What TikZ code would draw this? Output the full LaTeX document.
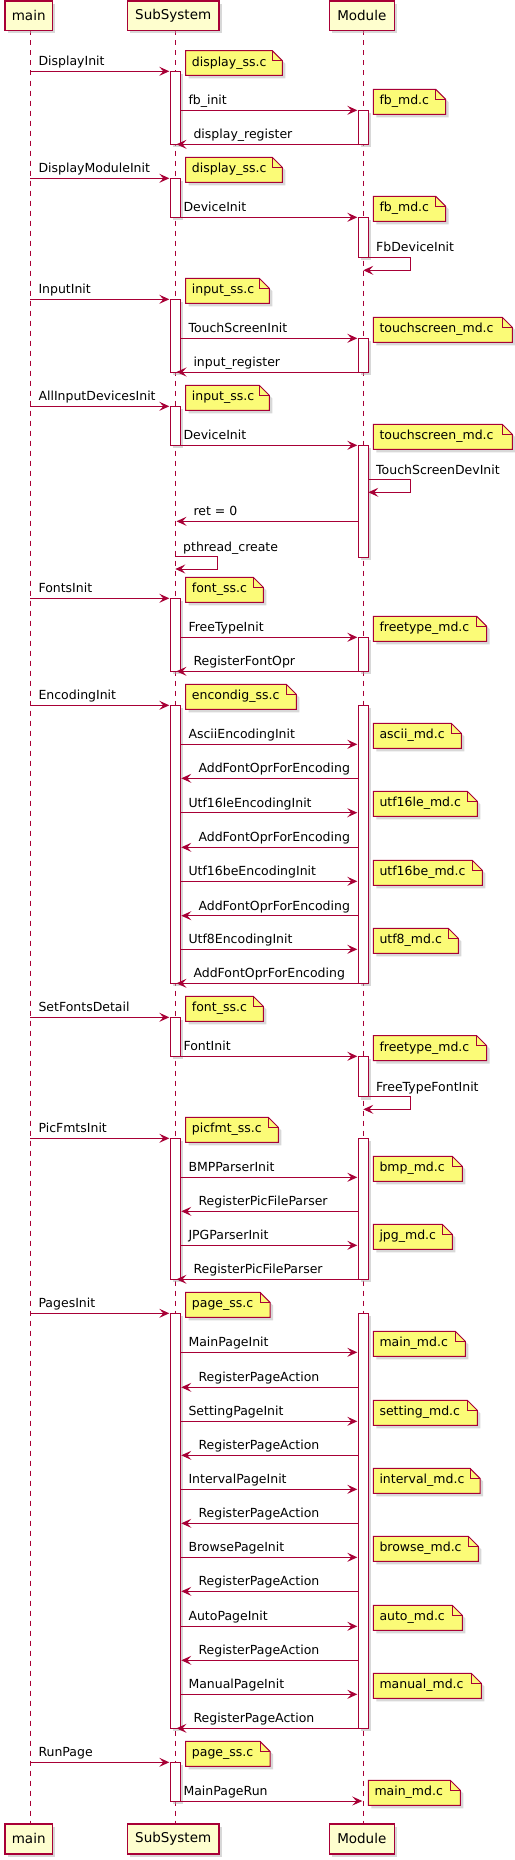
\documentclass[tikz,border=0pt]{standalone}
\usepackage{fontspec}
\setmainfont{DejaVu Sans}
\usetikzlibrary{arrows.meta,shadows,fit}
\definecolor{pu}{HTML}{A80036}
\definecolor{pfill}{HTML}{FEFECE}
\definecolor{nfill}{HTML}{FBFB77}
\tikzset{
 shd/.style={drop shadow={shadow xshift=3pt,shadow yshift=-3pt,fill=black!30,opacity=0.5}},
 part/.style={draw=pu,line width=1.5pt,fill=pfill,shd,inner sep=0,font=\fontsize{13.5}{16}\selectfont},
 life/.style={draw=pu,line width=1pt,dash pattern=on 5pt off 5pt},
 act/.style={draw=pu,line width=1pt,fill=white,shd,inner sep=0,fit=#1},
 msg/.style={draw=pu,line width=1pt,-{Stealth[length=10pt,width=9pt,inset=4pt]}},
 lbl/.style={anchor=base west,inner sep=0,font=\fontsize{12.5}{15}\selectfont},
 notebox/.style={draw=pu,line width=1pt,fill=nfill,shd},
 fold/.style={draw=pu,line width=1pt},
}
\newcommand\nt[6]{%
 \draw[notebox] (#2,#3) -- ({#4-10},#3) -- (#4,{#3+10}) -- (#4,#5) -- (#2,#5) -- cycle;
 \draw[fold] ({#4-10},#3) -- ({#4-10},{#3+10}) -- (#4,{#3+10});
 \node[lbl] (#1) at ({#2+6},{#3+15.5}) {#6};}
\newcommand\msgto[6]{%
 \coordinate (#1s) at (#2,#4); \coordinate (#1e) at (#3,#4);
 \draw[msg] (#1s) -- (#1e);
 \node[lbl] (#1l) at (#5,{#4-5.5}) {#6};}
\newcommand\selfmsg[7]{%
 \coordinate (#1s) at (#2,#3); \coordinate (#1e) at (#6,#5);
 \draw[msg] (#1s) -- (#4,#3) -- (#4,#5) -- (#1e);
 \node[lbl] (#1l) at ({#2+7.7},{#3-5.5}) {#7};}
\newcommand\actS[3]{%
 \coordinate (#1a) at (170.3,#2); \coordinate (#1b) at (180.3,#3);
 \node[act={(#1a)(#1b)}] (#1) {};}
\newcommand\actM[3]{%
 \coordinate (#1a) at (358.3,#2); \coordinate (#1b) at (368.3,#3);
 \node[act={(#1a)(#1b)}] (#1) {};}
\begin{document}
\begin{tikzpicture}[x=1pt,y=-1pt]
\useasboundingbox (0,0) rectangle (514,1860);
\fill[white] (0,0) rectangle (514,1860);
% lifelines
\coordinate (mainTop) at (30.3,30.5); \coordinate (mainBot) at (30.3,1823);
\coordinate (subTop) at (175.3,30.5); \coordinate (subBot) at (175.3,1823);
\coordinate (modTop) at (363.3,30.5); \coordinate (modBot) at (363.3,1823);
\draw[life] (mainTop) -- (mainBot);
\draw[life] (subTop) -- (subBot);
\draw[life] (modTop) -- (modBot);
% participants
\node[part,minimum width=47.3pt,minimum height=29.5pt] (mainT) at (28.7,15.75) {main};
\node[part,minimum width=91.7pt,minimum height=29.5pt] (subT) at (173.2,15.75) {SubSystem};
\node[part,minimum width=65pt,minimum height=29.5pt] (modT) at (361.8,15.75) {Module};
\node[part,minimum width=47.3pt,minimum height=30pt] (mainB) at (28.7,1838.8) {main};
\node[part,minimum width=91.7pt,minimum height=30pt] (subB) at (173.2,1838.8) {SubSystem};
\node[part,minimum width=65pt,minimum height=30pt] (modB) at (361.8,1838.8) {Module};
% activations
\actS{S1}{71.3}{144.3}
\actS{S2}{178.3}{217.3}
\actS{S3}{299.3}{372}
\actS{S4}{406.3}{445.3}
\actS{S5}{598.3}{671.3}
\actS{S6}{705.3}{983.3}
\actS{S7}{1017.3}{1056.3}
\actS{S8}{1138.3}{1279.3}
\actS{S9}{1313.3}{1728.3}
\actS{S10}{1762.3}{1801}
\actM{M1}{110.3}{144.3}
\actM{M2}{217.3}{257.3}
\actM{M3}{338.3}{372}
\actM{M4}{445.3}{557.3}
\actM{M5}{637.3}{671.3}
\actM{M6}{705.3}{983.3}
\actM{M7}{1056.3}{1096.7}
\actM{M8}{1138.3}{1279.3}
\actM{M9}{1313.3}{1728.3}
% messages
\msgto{m1}{30.3}{169.3}{71.3}{38.3}{DisplayInit}
\msgto{m2}{180.3}{357.3}{110.3}{188.3}{fb\_init}
\msgto{m3}{358.3}{176.5}{144.3}{193.3}{display\_register}
\msgto{m4}{30.3}{169.3}{178.3}{38.3}{DisplayModuleInit}
\msgto{m5}{175.3}{357.3}{217.3}{183.3}{DeviceInit}
\selfmsg{m6}{368.3}{257.3}{410.3}{270.3}{363.3}{FbDeviceInit}
\msgto{m7}{30.3}{169.3}{299.3}{38.3}{InputInit}
\msgto{m8}{180.3}{357.3}{338.3}{188.3}{TouchScreenInit}
\msgto{m9}{358.3}{176.5}{372}{193.3}{input\_register}
\msgto{m10}{30.3}{169.3}{406.3}{38.3}{AllInputDevicesInit}
\msgto{m11}{175.3}{357.3}{445.3}{183.3}{DeviceInit}
\selfmsg{m12}{368.3}{479.7}{410.3}{492.3}{368.3}{TouchScreenDevInit}
\msgto{m13}{358.3}{176.5}{521.3}{193.3}{ret = 0}
\selfmsg{m14}{175.3}{556.7}{217.3}{569}{175.3}{pthread\_create}
\msgto{m15}{30.3}{169.3}{598.3}{38.3}{FontsInit}
\msgto{m16}{180.3}{357.3}{637.3}{188.3}{FreeTypeInit}
\msgto{m17}{358.3}{176.5}{671.3}{193.3}{RegisterFontOpr}
\msgto{m18}{30.3}{169.3}{705.3}{38.3}{EncodingInit}
\msgto{m19}{180.3}{357.3}{744.3}{188.3}{AsciiEncodingInit}
\msgto{m20}{358.3}{181.3}{778.3}{198.3}{AddFontOprForEncoding}
\msgto{m21}{180.3}{357.3}{812.7}{188.3}{Utf16leEncodingInit}
\msgto{m22}{358.3}{181.3}{847.3}{198.3}{AddFontOprForEncoding}
\msgto{m23}{180.3}{357.3}{881.3}{188.3}{Utf16beEncodingInit}
\msgto{m24}{358.3}{181.3}{915.7}{198.3}{AddFontOprForEncoding}
\msgto{m25}{180.3}{357.3}{949.3}{188.3}{Utf8EncodingInit}
\msgto{m26}{358.3}{176.5}{983.3}{193.3}{AddFontOprForEncoding}
\msgto{m27}{30.3}{169.3}{1017.3}{38.3}{SetFontsDetail}
\msgto{m28}{175.3}{357.3}{1056.3}{183.3}{FontInit}
\selfmsg{m29}{368.3}{1096.7}{410.3}{1109.3}{363.3}{FreeTypeFontInit}
\msgto{m30}{30.3}{169.3}{1138.3}{38.3}{PicFmtsInit}
\msgto{m31}{180.3}{357.3}{1177.3}{188.3}{BMPParserInit}
\msgto{m32}{358.3}{181.3}{1211.3}{198.3}{RegisterPicFileParser}
\msgto{m33}{180.3}{357.3}{1245.3}{188.3}{JPGParserInit}
\msgto{m34}{358.3}{176.5}{1279.3}{193.3}{RegisterPicFileParser}
\msgto{m35}{30.3}{169.3}{1313.3}{38.3}{PagesInit}
\msgto{m36}{180.3}{357.3}{1352.3}{188.3}{MainPageInit}
\msgto{m37}{358.3}{181.3}{1387.3}{198.3}{RegisterPageAction}
\msgto{m38}{180.3}{357.3}{1421.3}{188.3}{SettingPageInit}
\msgto{m39}{358.3}{181.3}{1455.3}{198.3}{RegisterPageAction}
\msgto{m40}{180.3}{357.3}{1489.3}{188.3}{IntervalPageInit}
\msgto{m41}{358.3}{181.3}{1523.3}{198.3}{RegisterPageAction}
\msgto{m42}{180.3}{357.3}{1557.3}{188.3}{BrowsePageInit}
\msgto{m43}{358.3}{181.3}{1591.3}{198.3}{RegisterPageAction}
\msgto{m44}{180.3}{357.3}{1626.3}{188.3}{AutoPageInit}
\msgto{m45}{358.3}{181.3}{1660.3}{198.3}{RegisterPageAction}
\msgto{m46}{180.3}{357.3}{1694.3}{188.3}{ManualPageInit}
\msgto{m47}{358.3}{176.5}{1728.3}{193.3}{RegisterPageAction}
\msgto{m48}{30.3}{169.3}{1762.3}{38.3}{RunPage}
\msgto{m49}{175.3}{362.3}{1801}{183.3}{MainPageRun}
% notes
\nt{n1}{185.7}{50.7}{282.3}{75.3}{display\_ss.c}
\nt{n2}{373.3}{89.3}{445.7}{114.3}{fb\_md.c}
\nt{n3}{185.7}{157.3}{282.3}{182.3}{display\_ss.c}
\nt{n4}{373.3}{196.3}{445.7}{221.3}{fb\_md.c}
\nt{n5}{185.7}{278.3}{269.3}{303.3}{input\_ss.c}
\nt{n6}{373.3}{317.3}{512.3}{342.3}{touchscreen\_md.c}
\nt{n7}{185.7}{385.3}{269.3}{410.3}{input\_ss.c}
\nt{n8}{373.3}{424.3}{512.3}{449.3}{touchscreen\_md.c}
\nt{n9}{185.7}{577.3}{263.3}{602.3}{font\_ss.c}
\nt{n10}{373.3}{616.3}{486.7}{641.3}{freetype\_md.c}
\nt{n11}{185.7}{684.3}{296.3}{709.3}{encondig\_ss.c}
\nt{n12}{373.3}{723.3}{461.3}{748.3}{ascii\_md.c}
\nt{n13}{373.3}{791.3}{477.3}{816.3}{utf16le\_md.c}
\nt{n14}{373.3}{860.3}{482.3}{885.3}{utf16be\_md.c}
\nt{n15}{373.3}{928.3}{458.3}{953.3}{utf8\_md.c}
\nt{n16}{185.7}{996.3}{263.3}{1021.3}{font\_ss.c}
\nt{n17}{373.3}{1035.7}{486.7}{1060.7}{freetype\_md.c}
\nt{n18}{185.7}{1117.3}{278.3}{1142.3}{picfmt\_ss.c}
\nt{n19}{373.3}{1156.3}{462.3}{1181.3}{bmp\_md.c}
\nt{n20}{373.3}{1224.3}{452.3}{1249.3}{jpg\_md.c}
\nt{n21}{185.7}{1292.3}{270}{1317.3}{page\_ss.c}
\nt{n22}{373.3}{1331.3}{465.3}{1356.3}{main\_md.c}
\nt{n23}{373.3}{1400.3}{477.3}{1425.3}{setting\_md.c}
\nt{n24}{373.3}{1468.3}{480}{1493.3}{interval\_md.c}
\nt{n25}{373.3}{1536.3}{478.3}{1561.3}{browse\_md.c}
\nt{n26}{373.3}{1605.3}{462.3}{1630.3}{auto\_md.c}
\nt{n27}{373.3}{1673.3}{481.3}{1698.3}{manual\_md.c}
\nt{n28}{185.7}{1741.3}{270}{1766.3}{page\_ss.c}
\nt{n29}{368.3}{1780.3}{460.3}{1805.3}{main\_md.c}
\end{tikzpicture}
\end{document}
